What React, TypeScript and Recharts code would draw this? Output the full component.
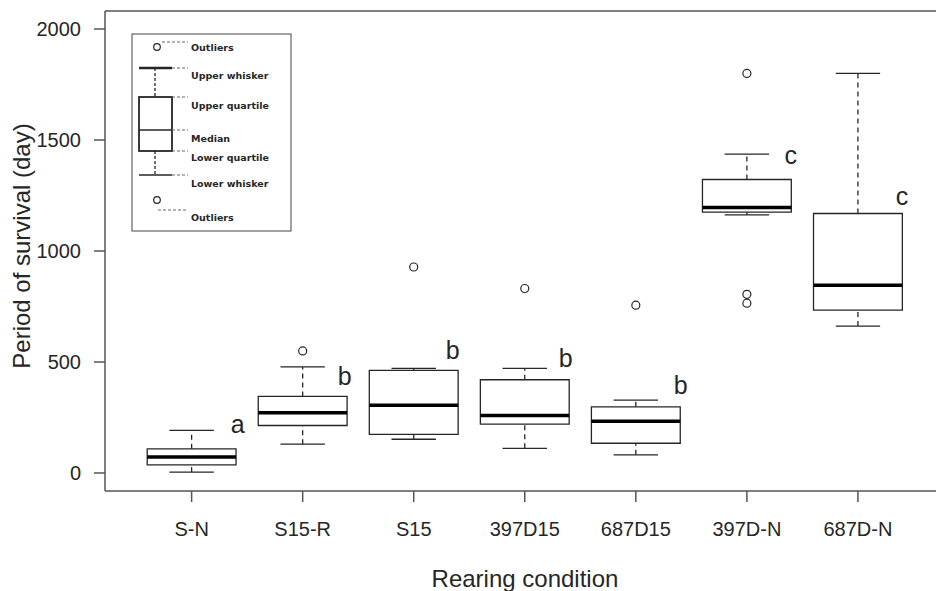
import React from 'react';
import { ComposedChart, XAxis, YAxis, Scatter, ReferenceArea, ReferenceLine, Label } from 'recharts';

const categories = ['S-N', 'S15-R', 'S15', '397D15', '687D15', '397D-N', '687D-N'];
const lowerWhisker = [4, 130, 152, 111, 82, 1163, 662];
const lowerQuartile = [37, 214, 174, 220, 134, 1175, 734];
const median = [72, 272, 305, 259, 233, 1196, 846];
const upperQuartile = [109, 345, 462, 420, 298, 1322, 1169];
const upperWhisker = [192, 478, 471, 471, 328, 1436, 1800];

const outlierCategory = ['S15-R', 'S15', '397D15', '687D15', '397D-N', '397D-N', '397D-N'];
const outlierValue = [550, 928, 831, 756, 1800, 805, 765];

const letters = ['a', 'b', 'b', 'b', 'b', 'c', 'c'];
const letterX = [1.414, 2.378, 3.35, 4.369, 5.405, 6.396, 7.396];
const letterY = [179, 396, 514, 477, 357, 1392, 1207];

const yTicks = [0, 500, 1000, 1500, 2000];
const X_MIN = 0.22;
const X_MAX = 7.703;
const Y_MIN = -81;
const Y_MAX = 2081;
const BOX_HALF = 0.4;
const CAP_HALF = 0.2;

const FONT = '"Liberation Sans", Arial, sans-serif';
const INK = '#262626';
const AXIS = '#555';

const legendRows = [
  { label: 'Outliers', y: 51 },
  { label: 'Upper whisker', y: 79 },
  { label: 'Upper quartile', y: 109 },
  { label: 'Median', y: 142 },
  { label: 'Lower quartile', y: 161 },
  { label: 'Lower whisker', y: 187 },
  { label: 'Outliers', y: 221 },
];

function Legend() {
  const dash = '3 2';
  const g = '#666';
  return (
    <svg width={936} height={591} style={{ position: 'absolute', left: 0, top: 0, pointerEvents: 'none' }}>
      <rect x={132} y={34} width={159} height={197} fill="#fff" stroke="#444" strokeWidth={1} />
      <circle cx={157} cy={47} r={3.3} fill="none" stroke={INK} strokeWidth={1.2} />
      <line x1={162} y1={42} x2={188} y2={42} stroke={g} strokeDasharray={dash} />
      <line x1={139} y1={68} x2={172} y2={68} stroke={INK} strokeWidth={2.5} />
      <line x1={172} y1={68} x2={188} y2={68} stroke={g} strokeDasharray={dash} />
      <line x1={155} y1={68} x2={155} y2={97} stroke={INK} strokeDasharray={dash} strokeWidth={1.3} />
      <rect x={139} y={97} width={33} height={54} fill="#fff" stroke={INK} strokeWidth={1.8} />
      <line x1={172} y1={97} x2={188} y2={97} stroke={g} strokeDasharray={dash} />
      <line x1={139} y1={130} x2={172} y2={130} stroke={INK} strokeWidth={1.3} />
      <line x1={172} y1={130} x2={188} y2={130} stroke={g} strokeDasharray={dash} />
      <line x1={172} y1={151} x2={188} y2={151} stroke={g} strokeDasharray={dash} />
      <line x1={155} y1={151} x2={155} y2={175} stroke={INK} strokeDasharray={dash} strokeWidth={1.3} />
      <line x1={139} y1={175} x2={172} y2={175} stroke={INK} strokeWidth={1.3} />
      <line x1={172} y1={175} x2={188} y2={175} stroke={g} strokeDasharray={dash} />
      <circle cx={157} cy={200} r={3.3} fill="none" stroke={INK} strokeWidth={1.2} />
      <line x1={158} y1={210} x2={188} y2={210} stroke={g} strokeDasharray={dash} />
      {legendRows.map((r, i) => (
        <text key={i} x={191} y={r.y} fontFamily='"DejaVu Sans", Verdana, sans-serif' fontWeight="bold" fontSize={9.5} fill={INK}>
          {r.label}
        </text>
      ))}
    </svg>
  );
}

const OutlierShape = (p: any) => (
  <circle cx={p.cx} cy={p.cy} r={4} fill="none" stroke={INK} strokeWidth={1.2} />
);

const LetterShape = (p: any) => (
  <text x={p.cx} y={p.cy} textAnchor="middle" fontFamily={FONT} fontSize={25} fill={INK}>
    {p.payload.t}
  </text>
);

export default function App() {
  const outlierData = outlierCategory.map((c, i) => ({ x: categories.indexOf(c) + 1, y: outlierValue[i] }));
  const letterData = letters.map((t, i) => ({ x: letterX[i], y: letterY[i], t }));
  const pos = categories.map((_, i) => i + 1);

  return (
    <div style={{ position: 'absolute', left: 0, top: 0, width: 936, height: 591, background: '#fff' }}>
      <ComposedChart width={936} height={591} margin={{ top: 11, right: 0, bottom: 0, left: 0 }}>
        <XAxis
          type="number"
          dataKey="x"
          domain={[X_MIN, X_MAX]}
          ticks={pos}
          interval={0}
          allowDataOverflow
          tickFormatter={(v: number) => categories[v - 1]}
          height={100}
          tickSize={11}
          tickMargin={20}
          stroke={AXIS}
          strokeWidth={1.5}
          tick={{ fill: INK, fontSize: 20, fontFamily: FONT }}
        >
          <Label
            content={() => (
              <text x={525} y={587} textAnchor="middle" fontFamily={FONT} fontSize={24} fill={INK}>
                Rearing condition
              </text>
            )}
          />
        </XAxis>
        <YAxis
          type="number"
          domain={[Y_MIN, Y_MAX]}
          ticks={yTicks}
          allowDataOverflow
          width={105}
          tickSize={11}
          tickMargin={13}
          stroke={AXIS}
          strokeWidth={1.5}
          tick={{ fill: INK, fontSize: 20, fontFamily: FONT }}
        >
          <Label
            content={() => (
              <text x={30} y={246} transform="rotate(-90, 30, 246)" textAnchor="middle" fontFamily={FONT} fontSize={24} fill={INK}>
                Period of survival (day)
              </text>
            )}
          />
        </YAxis>
        <ReferenceLine y={Y_MAX} stroke={AXIS} strokeWidth={1.5} ifOverflow="extendDomain" />

        {pos.map((x, i) => (
          <ReferenceLine
            key={'wu' + i}
            segment={[{ x, y: upperQuartile[i] }, { x, y: upperWhisker[i] }]}
            stroke={INK}
            strokeWidth={1.3}
            strokeDasharray="5 4"
          />
        ))}
        {pos.map((x, i) => (
          <ReferenceLine
            key={'wl' + i}
            segment={[{ x, y: lowerWhisker[i] }, { x, y: lowerQuartile[i] }]}
            stroke={INK}
            strokeWidth={1.3}
            strokeDasharray="5 4"
          />
        ))}
        {pos.map((x, i) => (
          <ReferenceLine
            key={'cu' + i}
            segment={[{ x: x - CAP_HALF, y: upperWhisker[i] }, { x: x + CAP_HALF, y: upperWhisker[i] }]}
            stroke={INK}
            strokeWidth={1.3}
          />
        ))}
        {pos.map((x, i) => (
          <ReferenceLine
            key={'cl' + i}
            segment={[{ x: x - CAP_HALF, y: lowerWhisker[i] }, { x: x + CAP_HALF, y: lowerWhisker[i] }]}
            stroke={INK}
            strokeWidth={1.3}
          />
        ))}
        {pos.map((x, i) => (
          <ReferenceArea
            key={'b' + i}
            x1={x - BOX_HALF}
            x2={x + BOX_HALF}
            y1={lowerQuartile[i]}
            y2={upperQuartile[i]}
            fill="#fff"
            fillOpacity={1}
            stroke={INK}
            strokeWidth={1.3}
          />
        ))}
        {pos.map((x, i) => (
          <ReferenceLine
            key={'m' + i}
            segment={[{ x: x - BOX_HALF, y: median[i] }, { x: x + BOX_HALF, y: median[i] }]}
            stroke="#000"
            strokeWidth={3.5}
          />
        ))}
        <Scatter data={outlierData} dataKey="y" shape={OutlierShape} isAnimationActive={false} />
        <Scatter data={letterData} dataKey="y" shape={LetterShape} isAnimationActive={false} />
      </ComposedChart>
      <Legend />
    </div>
  );
}
